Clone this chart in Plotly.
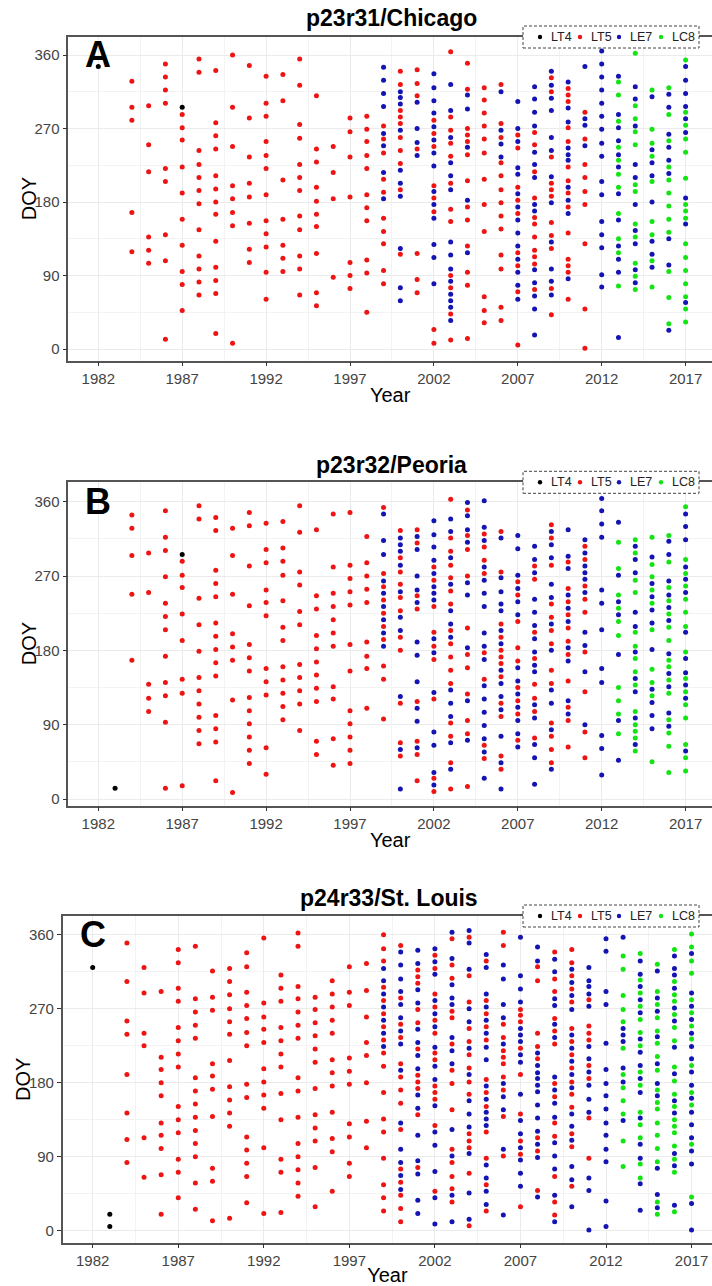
import plotly.graph_objects as go

W, H = 712, 1286

YEAR_TICK0 = 1982
DOY_TICKS = [0, 90, 180, 270, 360]
SENSORS = ["LT4", "LT5", "LE7", "LC8"]
TITLES = ["p23r31/Chicago", "p23r32/Peoria", "p24r33/St. Louis"]
LETTERS = ["A", "B", "C"]

# ---------------- Panel A: p23r31/Chicago (year -> DOY list) ----------------
A_LT4 = {1982: [346], 1987: [296]}
A_LT5 = {
    1984: [328, 296, 280, 167, 119],
    1985: [298, 250, 217, 137, 121, 105],
    1986: [349, 333, 317, 301, 221, 205, 140, 108, 12],
    1987: [287, 271, 256, 223, 191, 159, 127, 95, 79, 47],
    1988: [355, 339, 243, 226, 210, 194, 178, 146, 114, 98, 82, 66],
    1989: [341, 277, 261, 245, 212, 196, 180, 165, 132, 100, 84, 68, 19],
    1990: [360, 296, 248, 200, 184, 167, 151, 7],
    1991: [347, 283, 235, 203, 186, 154, 122, 106],
    1992: [334, 301, 285, 254, 237, 221, 189, 157, 141, 125, 94, 61],
    1993: [336, 304, 207, 159, 127, 111, 95],
    1994: [355, 323, 275, 258, 226, 210, 194, 163, 146, 114, 98, 66],
    1995: [310, 245, 229, 198, 181, 165, 150, 117, 69, 53],
    1996: [248, 216, 184, 88],
    1997: [283, 266, 235, 186, 106, 90, 74],
    1998: [285, 269, 254, 237, 221, 189, 173, 157, 109, 93, 45],
    1999: [273, 257, 240, 208, 192, 160, 144, 129, 96, 80],
    2000: [340, 324, 292, 284, 276, 259, 243, 227, 195, 116],
    2001: [342, 325, 310, 245, 117, 85, 69],
    2002: [280, 264, 248, 200, 185, 168, 24, 7],
    2003: [364, 284, 268, 252, 236, 203, 171, 156, 90, 75, 43, 11],
    2004: [350, 318, 270, 262, 254, 238, 206, 174, 158, 126, 94, 78, 13],
    2005: [320, 305, 289, 273, 257, 240, 208, 177, 144, 64, 47, 32],
    2006: [324, 276, 259, 228, 212, 195, 179, 163, 147, 115, 98, 51, 35],
    2007: [262, 246, 198, 182, 166, 118, 102, 70, 5],
    2008: [265, 250, 217, 185, 161, 153, 137, 121, 113, 104, 73],
    2009: [332, 315, 235, 203, 195, 187, 155, 139, 123, 74, 42],
    2010: [319, 311, 303, 271, 254, 223, 206, 191, 174, 142, 110, 102, 94, 61],
    2011: [290, 257, 226, 210, 193, 177, 129, 49, 1],
}
A_LE7 = {
    1999: [345, 329, 313, 297, 264, 249, 216, 184],
    2000: [315, 308, 300, 268, 219, 203, 187, 123, 75, 59],
    2001: [302, 270, 253, 237],
    2002: [337, 320, 304, 289, 272, 256, 240, 224, 193, 177, 160, 128, 112, 80],
    2003: [324, 292, 259, 228, 212, 195, 131, 115, 98, 83, 67, 59, 51, 35],
    2004: [311, 294, 247, 182, 118],
    2006: [315, 268, 251, 235],
    2007: [303, 270, 254, 222, 214, 190, 174, 158, 142, 126, 110, 94, 78, 61],
    2008: [321, 306, 290, 273, 241, 226, 210, 177, 169, 97, 81, 65, 49, 17],
    2009: [340, 323, 307, 292, 259, 243, 211, 179, 131, 98, 83, 66],
    2010: [327, 295, 278, 246, 238, 231, 198, 182, 166, 86],
    2011: [346, 282, 274, 249],
    2012: [365, 349, 333, 317, 301, 285, 269, 252, 236, 205, 189, 156, 140, 124, 91, 76],
    2013: [334, 287, 271, 255, 238, 223, 190, 158, 126, 110, 94, 14],
    2014: [321, 306, 273, 226, 210, 177, 145, 129, 97, 81],
    2015: [309, 244, 228, 212, 180, 132, 116, 100],
    2016: [312, 296, 263, 247, 231, 215, 135, 103, 23],
    2017: [346, 329, 313, 297, 282, 265, 185, 153, 57],
}
A_LC8 = {
    2013: [327, 311, 279, 247, 231, 214, 198, 166, 135, 118, 77],
    2014: [362, 298, 282, 266, 250, 201, 193, 153, 137, 105, 89, 73],
    2015: [317, 269, 252, 236, 205, 156, 140, 108, 76],
    2016: [320, 287, 255, 223, 207, 191, 175, 159, 143, 95, 63, 31],
    2017: [354, 290, 274, 257, 241, 209, 177, 169, 160, 129, 112, 96, 80, 64, 49, 33],
}

# ---------------- Panel B: p23r32/Peoria ----------------
B_LT4 = {1983: [13], 1987: [296]}
B_LT5 = {
    1984: [344, 328, 295, 248, 168],
    1985: [298, 250, 139, 122, 106],
    1986: [349, 317, 301, 269, 237, 221, 205, 173, 141, 125, 93, 13],
    1987: [288, 271, 256, 224, 192, 145, 128, 16],
    1988: [355, 339, 243, 211, 179, 147, 131, 115, 99, 83, 67],
    1989: [341, 325, 277, 261, 245, 213, 197, 181, 165, 149, 101, 85, 69, 22],
    1990: [328, 295, 248, 200, 184, 168, 120, 8],
    1991: [347, 331, 282, 234, 187, 171, 155, 123, 107, 91, 75, 59, 43],
    1992: [334, 302, 286, 253, 238, 222, 158, 142, 126, 62, 30],
    1993: [336, 304, 288, 271, 240, 208, 192, 160, 144, 128, 112, 96],
    1994: [355, 323, 275, 259, 227, 211, 163, 147, 131, 115, 83],
    1995: [326, 246, 230, 198, 182, 166, 150, 134, 118, 70, 54],
    1996: [345, 281, 249, 233, 217, 201, 185, 136, 121, 73, 41],
    1997: [347, 283, 267, 251, 235, 187, 155, 107, 91, 75, 59, 43],
    1998: [318, 286, 270, 254, 238, 190, 173, 158, 110],
    1999: [353, 273, 257, 241, 225, 209, 193, 161, 145, 97],
    2000: [325, 292, 275, 260, 244, 228, 196, 180, 116, 68, 52],
    2001: [326, 310, 246, 230, 118, 70, 54, 22],
    2002: [281, 265, 233, 202, 185, 169, 121, 25, 9],
    2003: [363, 316, 300, 283, 268, 252, 236, 204, 188, 172, 156, 140, 92, 76, 44, 12],
    2004: [350, 319, 302, 270, 207, 175, 159, 127, 95, 79, 15],
    2005: [321, 305, 289, 273, 177, 145, 65, 49],
    2006: [324, 275, 212, 196, 180, 172, 164, 148, 116, 100, 52, 36],
    2007: [263, 247, 215, 183, 167, 135, 119, 103, 71],
    2008: [282, 266, 202, 170, 139, 122, 106, 74],
    2009: [332, 316, 283, 236, 220, 204, 188, 156, 140, 92, 76, 60, 44],
    2010: [287, 255, 239, 223, 207, 191, 175, 143, 111, 95, 63],
    2011: [306, 290, 258, 242, 226, 178, 130, 81, 50],
}
B_LE7 = {
    1999: [345, 313, 296, 264, 249, 233, 217, 201, 185],
    2000: [316, 308, 300, 283, 251, 220, 204, 124, 60, 12],
    2001: [318, 302, 270, 253, 238, 190, 174, 142, 110, 94, 62],
    2002: [337, 320, 305, 289, 273, 257, 249, 241, 194, 177, 129, 81, 65, 32, 17],
    2003: [339, 324, 292, 260, 228, 212, 196, 132, 116, 100, 68, 36],
    2004: [359, 343, 326, 311, 262, 247, 183, 119, 71],
    2005: [361, 329, 313, 281, 265, 249, 233, 201, 185, 169, 137, 121, 105, 89, 73, 57, 25],
    2006: [316, 268, 251, 236, 228, 204, 188, 156, 140, 124, 108, 76, 44, 12],
    2007: [319, 303, 271, 255, 239, 223, 159, 143, 127, 111, 95, 79, 63],
    2008: [306, 290, 274, 242, 226, 210, 194, 178, 162, 154, 114, 98, 66, 50, 18],
    2009: [324, 308, 292, 260, 244, 212, 180, 132, 116, 84, 36],
    2010: [326, 294, 279, 247, 231, 215, 183, 167, 119, 103],
    2011: [314, 298, 282, 274, 266, 250, 202, 186, 154, 90],
    2012: [364, 349, 333, 317, 253, 237, 205, 158, 141, 77, 61, 29],
    2013: [335, 271, 239, 223, 175, 95, 47],
    2014: [306, 290, 274, 226, 209, 178, 146, 130, 98, 66],
    2015: [293, 261, 245, 229, 213, 181, 133, 117, 101, 85],
    2016: [312, 296, 264, 247, 232, 216, 176, 152, 136, 104, 88],
    2017: [345, 330, 314, 281, 266, 250, 202, 170, 153, 138, 122, 58],
}
B_LC8 = {
    2013: [311, 279, 247, 231, 215, 198, 135, 119, 103, 79],
    2014: [314, 298, 265, 250, 202, 185, 170, 154, 138, 106, 90, 82, 74, 58],
    2015: [317, 284, 269, 253, 237, 205, 157, 141, 125, 45],
    2016: [319, 287, 256, 240, 224, 208, 192, 168, 160, 144, 128, 96, 80, 64, 32],
    2017: [354, 290, 273, 258, 242, 226, 209, 178, 146, 130, 114, 98, 66, 50, 34],
}

# ---------------- Panel C: p24r33/St. Louis ----------------
C_LT4 = {1982: [320], 1983: [20, 5]}
C_LT5 = {
    1984: [350, 303, 255, 239, 190, 143, 111, 83],
    1985: [320, 289, 240, 225, 113, 65],
    1986: [291, 211, 196, 180, 164, 131, 116, 100, 68, 20],
    1987: [342, 326, 295, 279, 247, 231, 215, 199, 151, 135, 119, 87, 71, 40],
    1988: [346, 282, 266, 250, 234, 186, 170, 154, 138, 122, 106, 90, 58, 26],
    1989: [316, 284, 268, 203, 188, 172, 139, 76, 60, 12],
    1990: [319, 303, 287, 270, 254, 239, 207, 175, 159, 143, 127, 15],
    1991: [338, 321, 290, 274, 258, 241, 225, 178, 162, 114, 98, 82, 66, 34],
    1992: [356, 277, 260, 245, 229, 197, 181, 165, 149, 101, 21],
    1993: [311, 295, 279, 247, 231, 215, 199, 167, 135, 87, 71, 22],
    1994: [362, 346, 297, 282, 266, 250, 234, 186, 170, 138, 106, 90, 74, 58, 42],
    1995: [284, 269, 253, 237, 221, 205, 173, 141, 125, 109, 77, 29],
    1996: [304, 288, 272, 256, 240, 208, 192, 176, 144, 112, 96, 48],
    1997: [321, 290, 274, 210, 194, 178, 130, 114, 82, 66],
    1998: [325, 292, 260, 229, 213, 180, 133, 101],
    1999: [360, 343, 328, 296, 280, 264, 248, 232, 216, 200, 168, 136, 120, 88, 56, 40, 24],
    2000: [347, 283, 251, 235, 203, 187, 171, 155, 123, 75, 59, 43, 27, 11],
    2001: [317, 309, 301, 269, 253, 221, 189, 181, 173, 141, 77],
    2002: [335, 319, 288, 272, 256, 240, 216, 208, 176, 168, 160, 128, 48],
    2003: [355, 323, 307, 267, 259, 227, 195, 179, 147, 99, 83, 66, 51, 35],
    2004: [357, 310, 278, 246, 230, 214, 198, 181, 166, 118, 109, 101, 70, 6],
    2005: [328, 280, 264, 248, 232, 184, 168, 151, 120, 88, 56, 24],
    2006: [363, 347, 251, 235, 219, 211, 203, 187, 171, 139, 91],
    2007: [269, 262, 254, 222, 190, 142, 109, 93, 29],
    2008: [321, 304, 240, 224, 209, 113, 97, 49],
    2009: [339, 306, 291, 258, 243, 227, 179, 163, 131, 115, 66, 35, 19],
    2010: [342, 326, 310, 294, 278, 246, 230, 214, 198, 181, 166, 150, 118, 102, 54],
    2011: [281, 249, 240, 232, 201, 185, 137, 88],
}
C_LE7 = {
    1999: [319, 304, 288, 272, 256, 240, 224],
    2000: [339, 323, 306, 291, 275, 259, 243, 227, 195, 131, 99, 83, 67, 50],
    2001: [341, 325, 293, 277, 245, 229, 213, 197, 165, 149, 116, 85, 69, 37, 21],
    2002: [343, 327, 312, 280, 264, 248, 223, 200, 184, 152, 120, 104, 72, 40, 8],
    2003: [363, 331, 299, 283, 275, 235, 219, 203, 123, 91, 43, 11],
    2004: [365, 350, 318, 270, 254, 222, 190, 158, 142, 126, 94, 46, 14],
    2005: [336, 320, 288, 272, 256, 240, 223, 208, 176, 160, 144, 136, 128, 80, 64, 48, 32],
    2006: [323, 306, 275, 259, 227, 179, 163, 147, 99, 19],
    2007: [357, 310, 294, 278, 246, 238, 230, 214, 205, 166, 134, 118, 101, 86, 70, 54],
    2008: [345, 328, 216, 201, 192, 185, 177, 169, 153, 137, 121, 105, 89, 41],
    2009: [330, 315, 282, 274, 251, 235, 187, 171, 155, 138, 107, 91, 75, 43, 11],
    2010: [318, 302, 286, 269, 238, 222, 206, 190, 174, 142, 127, 110, 78, 62, 29],
    2011: [320, 304, 297, 288, 273, 224, 209, 193, 177, 160, 144, 64, 49, 1],
    2012: [355, 340, 291, 275, 228, 196, 179, 164, 148, 131, 116, 99, 84, 36, 5],
    2013: [357, 246, 238, 230, 198, 181, 134],
    2014: [328, 312, 297, 281, 265, 233, 217, 201, 185, 168, 137, 105, 88, 57, 25],
    2015: [316, 283, 267, 236, 203, 179, 164, 76, 44, 28],
    2016: [334, 319, 311, 295, 271, 255, 223, 191, 158, 143, 94, 79, 31],
    2017: [337, 289, 273, 257, 240, 224, 209, 193, 177, 161, 144, 129, 113, 97, 81, 33, 1],
}
C_LC8 = {
    2013: [334, 318, 286, 269, 254, 222, 190, 174, 158, 142, 109, 78],
    2014: [337, 305, 289, 273, 257, 241, 225, 193, 177, 144, 129, 113, 81, 64],
    2015: [324, 291, 275, 259, 243, 228, 212, 195, 171, 156, 148, 131, 116, 100, 84, 35, 20],
    2016: [342, 303, 287, 279, 263, 247, 231, 199, 182, 166, 151, 135, 127, 119, 103, 87, 71, 23],
    2017: [361, 345, 328, 313, 281, 265, 249, 233, 201, 168, 153, 105, 41],
}

PANEL_DATA = [
    {"LT4": A_LT4, "LT5": A_LT5, "LE7": A_LE7, "LC8": A_LC8},
    {"LT4": B_LT4, "LT5": B_LT5, "LE7": B_LE7, "LC8": B_LC8},
    {"LT4": C_LT4, "LT5": C_LT5, "LE7": C_LE7, "LC8": C_LC8},
]

# ---------------- styling / layout (pixel geometry of each panel) ----------------
COLORS = {"LT4": "#000000", "LT5": "#EE1414", "LE7": "#1414B4", "LC8": "#14E414"}
FONT = "Liberation Sans, Arial, sans-serif"
GEOM = [
    dict(top=37.0, bottom=360.7, y0=349.0, y360=55.0, left=68.3, x1982=98.3, pxyr=16.78, title_y=18),
    dict(top=482.3, bottom=805.7, y0=799.0, y360=501.7, left=68.3, x1982=98.3, pxyr=16.78, title_y=465),
    dict(top=916.0, bottom=1242.7, y0=1230.7, y360=934.7, left=62.7, x1982=92.7, pxyr=17.11, title_y=898),
]
LEG_BOX = (523, 699)                 # px, dashed legend frame
LEG_DOT_X = [540, 580, 619, 661]     # px, key dot centres
LEG_TXT_X = [549, 589, 628, 670]     # px, label left edges
DOY_TITLE_GAP = 39                   # px, from panel left edge to "DOY" centre


def flatten(d):
    xs, ys = [], []
    for yr, vals in d.items():
        xs += [yr] * len(vals)
        ys += list(vals)
    return xs, ys


fig = go.Figure()
layout = dict(
    width=W, height=H, margin=dict(l=0, r=0, t=0, b=0),
    paper_bgcolor="white", plot_bgcolor="white",
    font=dict(family=FONT, color="#000000"),
    showlegend=False,
    annotations=[], shapes=[],
)

for i, (pdata, g) in enumerate(zip(PANEL_DATA, GEOM)):
    n = "" if i == 0 else str(i + 1)
    for s in SENSORS:
        xs, ys = flatten(pdata[s])
        fig.add_trace(go.Scatter(
            x=xs, y=ys, mode="markers", name=s, showlegend=False,
            marker=dict(color=COLORS[s], size=5, line=dict(width=0)),
            xaxis="x" + n, yaxis="y" + n,
        ))

    scale = (g["y0"] - g["y360"]) / 360.0
    ymax = 360 + (g["y360"] - g["top"]) / scale
    ymin = -(g["bottom"] - g["y0"]) / scale
    xmin = 1982 - (g["x1982"] - g["left"]) / g["pxyr"]
    xmax = 1982 + (W - g["x1982"]) / g["pxyr"]

    layout["xaxis" + n] = dict(
        domain=[g["left"] / W, 1.0], range=[xmin, xmax], anchor="y" + n,
        tickmode="linear", tick0=YEAR_TICK0, dtick=5,
        ticks="outside", ticklen=4, tickwidth=1, tickcolor="#333333",
        tickfont=dict(size=15, color="#444444", family=FONT),
        showline=True, linecolor="#555555", linewidth=1.5, mirror=True,
        showgrid=True, gridcolor="#EBEBEB", gridwidth=1, zeroline=False,
        minor=dict(tick0=YEAR_TICK0, dtick=2.5, showgrid=True, gridcolor="#F3F3F3", gridwidth=0.6),
        title=dict(text="Year", font=dict(size=20, color="#000000", family=FONT), standoff=2),
        automargin=False,
    )
    layout["yaxis" + n] = dict(
        domain=[1 - g["bottom"] / H, 1 - g["top"] / H], range=[ymin, ymax], anchor="x" + n,
        tickmode="array", tickvals=DOY_TICKS, ticktext=[str(v) for v in DOY_TICKS],
        ticks="outside", ticklen=4, tickwidth=1, tickcolor="#333333",
        tickfont=dict(size=15, color="#444444", family=FONT),
        showline=True, linecolor="#555555", linewidth=1.5, mirror=False,
        showgrid=True, gridcolor="#EBEBEB", gridwidth=1, zeroline=False,
        minor=dict(tickmode="array", tickvals=[45, 135, 225, 315], showgrid=True, gridcolor="#F3F3F3", gridwidth=0.6),
        automargin=False,
    )
    # y-axis title
    layout["annotations"].append(dict(
        text="DOY", xref="paper", yref="paper", textangle=-90,
        x=(g["left"] - DOY_TITLE_GAP) / W, y=1 - (g["top"] + g["bottom"]) / 2 / H,
        xanchor="center", yanchor="middle", showarrow=False,
        font=dict(size=20, color="#000000", family=FONT),
    ))

    # legend key: dashed frame straddling the top border of the panel
    ytop = 1 - g["top"] / H
    layout["shapes"].append(dict(
        type="rect", xref="paper", yref="paper",
        x0=LEG_BOX[0] / W, x1=LEG_BOX[1] / W, y0=1 - (g["top"] + 11) / H, y1=1 - (g["top"] - 11) / H,
        line=dict(color="#444444", width=1, dash="3px,2px"), fillcolor="white", layer="above",
    ))
    for s, dx, tx in zip(SENSORS, LEG_DOT_X, LEG_TXT_X):
        layout["shapes"].append(dict(
            type="circle", xref="paper", yref="paper",
            xsizemode="pixel", ysizemode="pixel", xanchor=dx / W, yanchor=ytop,
            x0=-2.2, x1=2.2, y0=-2.2, y1=2.2,
            fillcolor=COLORS[s], line=dict(width=0), layer="above",
        ))
        layout["annotations"].append(dict(
            text=s, xref="paper", yref="paper", x=tx / W, y=ytop,
            xanchor="left", yanchor="middle", showarrow=False,
            font=dict(size=12.5, color="#222222", family=FONT),
        ))

    layout["annotations"].append(dict(
        text="<b>%s</b>" % TITLES[i], xref="paper", yref="paper",
        x=(g["left"] + W + 3) / 2 / W, y=1 - g["title_y"] / H, xanchor="center", yanchor="middle",
        showarrow=False, font=dict(size=23, color="#000000", family=FONT),
    ))
    layout["annotations"].append(dict(
        text="<b>%s</b>" % LETTERS[i], xref="x" + n, yref="y" + n,
        x=1982, y=360, xanchor="center", yanchor="middle",
        showarrow=False, font=dict(size=36, color="#000000", family=FONT),
    ))

fig.update_layout(**layout)
fig.write_html(
    "out.html",
    config={"displayModeBar": False},
    post_script="document.body.style.margin='0px';document.body.style.overflow='hidden';",
)
